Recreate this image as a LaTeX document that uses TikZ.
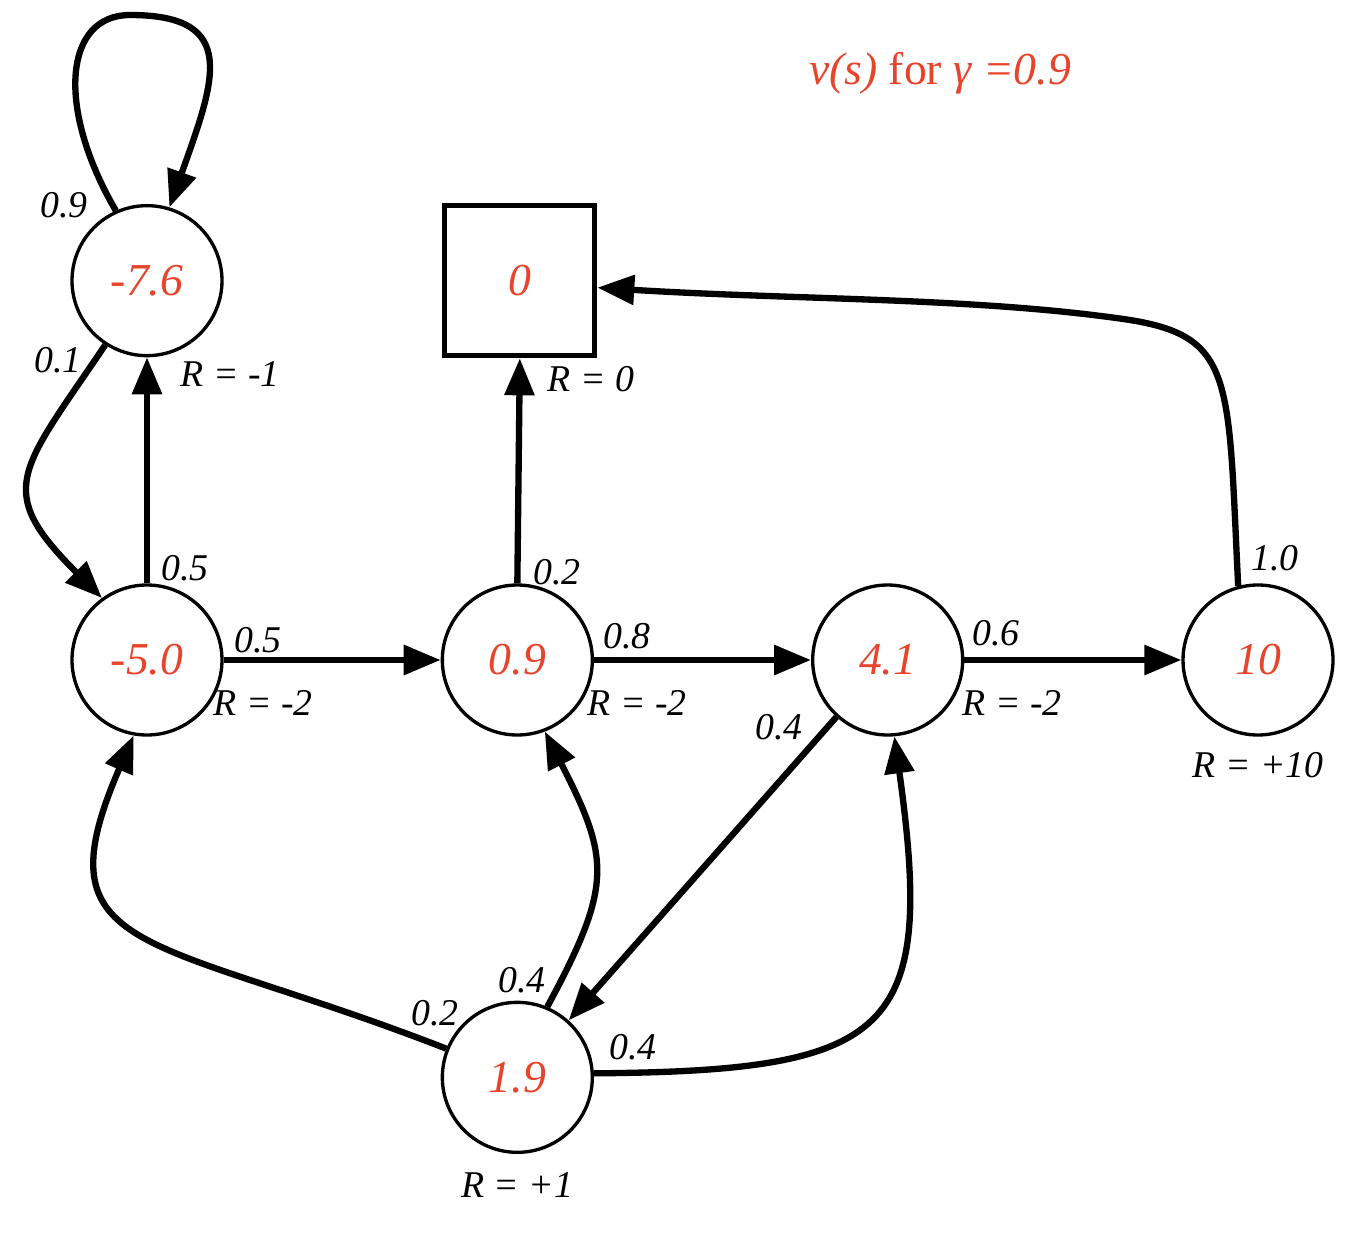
\documentclass[tikz,border=0pt]{standalone}
\usepackage{fontspec}
\setmainfont{Liberation Serif}
\usetikzlibrary{positioning,arrows.meta}
\definecolor{valred}{RGB}{232,68,44}

\begin{document}
\begin{tikzpicture}[
    node distance=4.34cm,
    state/.style={circle, draw, line width=1.9pt, minimum size=3cm, inner sep=0pt, text=valred, font=\fontsize{26}{30}\selectfont\itshape},
    final/.style={rectangle, draw, line width=2.8pt, minimum size=3cm, inner sep=0pt, text=valred, font=\fontsize{26}{30}\selectfont\itshape},
    prob/.style={font=\fontsize{21.5}{24}\selectfont\itshape, inner sep=0pt},
    arrow/.style={-{Triangle[length=0.74cm, width=0.58cm]}, line width=3.6pt}
]
\useasboundingbox (0,0) rectangle (27.32,-24.68);

% states
\node[state] (n50) at (2.94,-13.2) {-5.0};
\node[state, right=of n50] (n09) {0.9};
\node[state, right=of n09] (n41) {4.1};
\node[state, right=of n41] (n10) {10};
\node[state, above=4.52cm of n50] (n76) {-7.6};
\node[final, above=4.5cm of n09, xshift=0.05cm] (term) {0};
\node[state, below=5.28cm of n09] (n19) {1.9};

\node[anchor=base, text=valred, font=\fontsize{26}{30}\selectfont] (title) at (18.8,-1.70) {\textit{v(s)} for \textit{γ =0.9}};

% rewards
\node[prob] (r76) at (4.60,-7.48) {R = -1};
\node[prob] (rterm) at (11.82,-7.58) {R = 0};
\node[prob] (r50) at (5.26,-14.06) {R = -2};
\node[prob] (r09) at (12.74,-14.06) {R = -2};
\node[prob] (r41) at (20.24,-14.06) {R = -2};
\node[prob] (r10) at (25.16,-15.30) {R = +10};
\node[prob] (r19) at (10.34,-23.70) {R = +1};

% transitions
\coordinate (looptop) at (2.60,-0.30);
\draw[arrow] (n76.114) .. controls (1.10,-2.12) and (1.30,-0.30) .. (looptop)
    .. controls (4.80,-0.30) and (4.30,-1.60) .. (n76.73);
\draw[arrow] (n76.237) to[out=236, in=135, looseness=1.55] (n50.126);
\draw[arrow] (n50.north) -- (n76.south);
\draw[arrow] (n50.east) -- (n09.west);
\draw[arrow] (n09.north) -- (term.south);
\draw[arrow] (n09.east) -- (n41.west);
\draw[arrow] (n41.east) -- (n10.west);
\draw[arrow] (n41.228) -- (n19.48);

\coordinate (bend) at (22.60,-6.40);
\draw[arrow] (n10.105) .. controls (24.56,-7.60) and (24.70,-6.74) .. (bend)
    .. controls (19.60,-5.95) and (15.94,-6.00) .. (term.-5);

\draw[arrow] (n19.158) .. controls (2.98,-18.66) and (0.74,-19.16) .. (n50.260);
\draw[arrow] (n19.67) .. controls (12.26,-17.70) and (12.20,-17.18) .. (n09.291);
\draw[arrow] (n19.3) .. controls (17.84,-21.42) and (18.72,-20.68) .. (n41.275);

% probabilities
\node[prob] (p1) at (1.28,-4.10) {0.9};
\node[prob] (p2) at (1.16,-7.20) {0.1};
\node[prob] (p3) at (3.70,-11.36) {0.5};
\node[prob] (p4) at (11.14,-11.44) {0.2};
\node[prob] (p5) at (25.50,-11.16) {1.0};
\node[prob] (p6) at (5.16,-12.80) {0.5};
\node[prob] (p7) at (12.54,-12.72) {0.8};
\node[prob] (p8) at (19.92,-12.66) {0.6};
\node[prob] (p9) at (15.58,-14.54) {0.4};
\node[prob] (p10) at (10.44,-19.60) {0.4};
\node[prob] (p11) at (8.70,-20.26) {0.2};
\node[prob] (p12) at (12.66,-20.94) {0.4};

\end{tikzpicture}
\end{document}
